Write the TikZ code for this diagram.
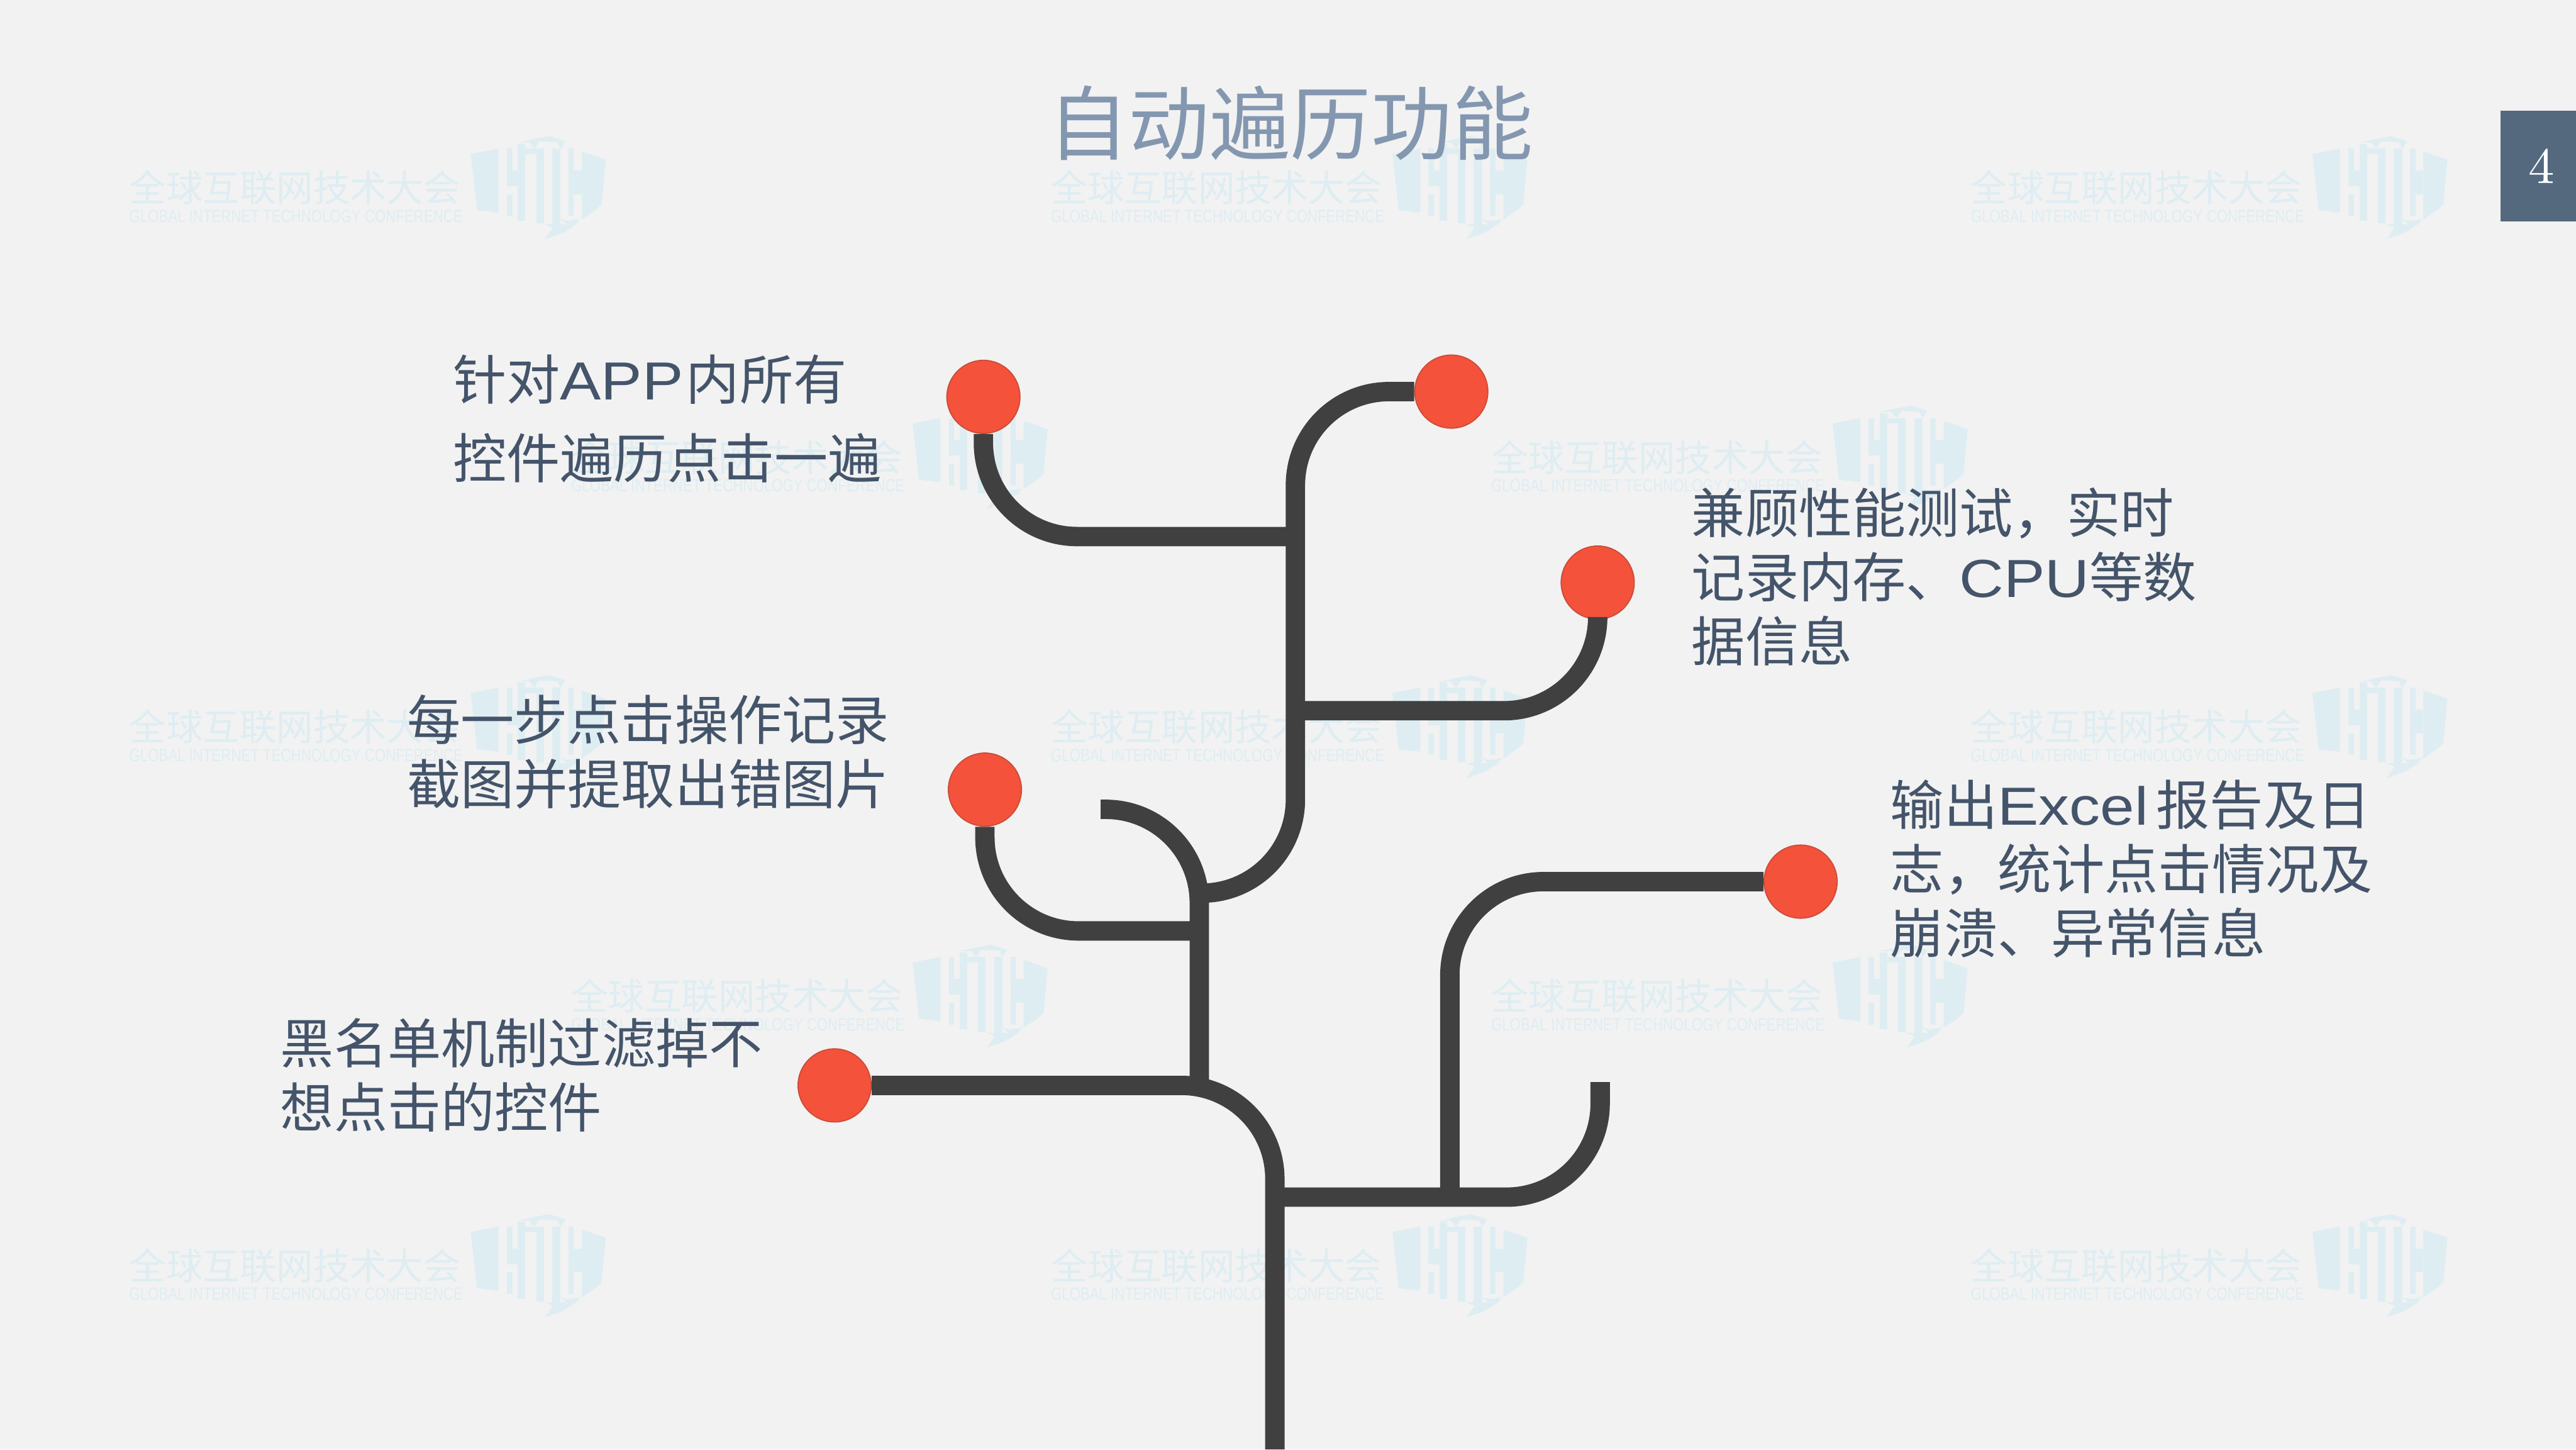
\documentclass[tikz,border=0pt]{standalone}
\usepackage{fontspec}
\usepackage{graphicx}
\usepackage{xcolor}
\newfontfamily\cjk{Noto Sans CJK SC}
\newfontfamily\latinwm{Liberation Sans}
\newfontfamily\latinword[FakeStretch=1.15]{Liberation Sans}
\definecolor{pagegrey}{rgb}{0.949, 0.949, 0.949}
\definecolor{titleblue}{rgb}{0.518, 0.592, 0.69}
\definecolor{labelblue}{rgb}{0.267, 0.329, 0.416}
\definecolor{boxblue}{rgb}{0.33, 0.41, 0.494}
\definecolor{branchgrey}{rgb}{0.25, 0.25, 0.25}
\definecolor{dotred}{rgb}{0.957, 0.322, 0.231}
\definecolor{dotedge}{rgb}{0.80, 0.30, 0.22}
\definecolor{markpale}{rgb}{0.871, 0.929, 0.949}

\begin{document}
\begin{tikzpicture}
	\tikzstyle{dot} = [circle,fill=dotred,draw=dotedge,very thin,minimum size=0.445cm,inner sep=0pt]
	\tikzstyle{edge} = [-,draw=branchgrey,line width=1.18mm,rounded corners=0.57cm]
	\tikzstyle{label} = [anchor=north west,inner sep=0pt,align=left,text=labelblue,font=\fontsize{9.28}{11.1}\selectfont\cjk]
	\tikzstyle{title} = [inner sep=0pt,text=titleblue,font=\fontsize{14}{16}\selectfont\cjk]
	\tikzstyle{pagebox} = [fill=boxblue,text=white,minimum width=0.46cm,minimum height=0.676cm,inner sep=0pt,font=\fontsize{8.8}{10}\selectfont]
	\tikzstyle{markcn} = [anchor=north west,inner sep=0pt,text=markpale,font=\fontsize{6.37}{7}\selectfont\cjk]
	\tikzstyle{marken} = [anchor=north west,inner sep=0pt,text=markpale,font=\fontsize{6}{7}\selectfont\latinwm]

	\useasboundingbox (0,0) rectangle (15.68,8.82);
	\fill[pagegrey] (0,0) rectangle (15.68,8.82);

	\foreach \mx/\my in {0.78/7.79,6.39/7.79,11.99/7.79,3.47/6.15,9.07/6.15,0.78/4.51,6.39/4.51,11.99/4.51,3.47/2.87,9.07/2.87,0.78/1.23,6.39/1.23,11.99/1.23}{
		\begin{scope}[shift={(\mx,\my)}]
			\node[markcn] (markcn) at (0,0) {全球互联网技术大会};
			\node[marken] (marken) at (0,-0.24) {\resizebox{2.03cm}{0.075cm}{GLOBAL INTERNET TECHNOLOGY CONFERENCE}};
			\foreach \xa/\ya/\xb/\yb in {2.305/.126/2.339/-.103,2.305/-.007/2.417/-.103,2.305/-.152/2.339/-.284,2.371/.155/2.417/-.313,2.371/.126/2.530/.093,2.484/.126/2.530/-.330,2.581/.126/2.632/-.346,2.680/.126/2.712/-.284,2.680/-.007/2.761/-.152}{
				\fill[markpale] (\xa,\ya) rectangle (\xb,\yb);
			}
			\fill[markpale] (2.085,.093)--(2.254,.126)--(2.254,-.264)--(2.124,-.249)--cycle;
			\fill[markpale] (2.761,.109)--(2.907,.058)--(2.882,-.213)--(2.851,-.243)--(2.761,-.305)--cycle;
			\fill[markpale] (2.535,-.335)--(2.729,-.335)--(2.647,-.386)--(2.535,-.427)--(2.586,-.356)--cycle;
			\fill[markpale] (2.632,-.300)--(2.667,-.335)--(2.729,-.335)--(2.761,-.284)--(2.744,-.305)--(2.667,-.315)--cycle;
			\fill[markpale] (2.371,.160)--(2.473,.185)--(2.565,.201)--(2.662,.170)--(2.632,.126)--(2.611,.165)--(2.504,.170)--(2.473,.126)--(2.440,.165)--cycle;
		\end{scope}
	}

	\node[title] (headline) at (7.855,8.07) {自动遍历功能};
	\node[pagebox] (pageno) at (15.45,7.81) {\hspace{0.4mm}4};

	\node[dot] (n1) at (5.986,6.405) {};
	\node[dot] (n2) at (8.834,6.437) {};
	\node[dot] (n3) at (9.725,5.275) {};
	\node[dot] (n4) at (5.995,4.015) {};
	\node[dot] (n5) at (5.08,2.215) {};
	\node[dot] (n6) at (10.96,3.455) {};

	\coordinate (base) at (7.76,0);
	\coordinate (j1) at (7.30,2.215);
	\coordinate (j2) at (7.30,3.155);
	\coordinate (j3) at (7.33,3.385);
	\coordinate (j4) at (7.885,4.9);
	\coordinate (j5) at (7.885,5.555);
	\coordinate (j6) at (7.885,4.495);
	\coordinate (j7) at (7.76,1.535);
	\coordinate (j8) at (8.825,1.535);
	\coordinate (tip1) at (6.70,3.895);
	\coordinate (tip2) at (9.74,2.235);

	\draw[edge] (base) |- (n5);
	\draw[edge] (j1) |- (tip1);
	\draw[edge] (n4) |- (j2);
	\draw[edge] (j3) -| (j4) |- (n2);
	\draw[edge] (n1) |- (j5);
	\draw[edge] (j6) -| (n3);
	\draw[edge] (j7) -| (tip2);
	\draw[edge] (j8) |- (n6);

	\node[label,font=\fontsize{9.28}{13.66}\selectfont\cjk] (traverse) at (2.75,6.67) {针对{\latinword APP}\hspace{0.05em}内所有\\控件遍历点击一遍};
	\node[label] (perf) at (10.29,5.86) {兼顾性能测试\char"FF0C 实时\\记录内存、{\latinword CPU}等数\\据信息};
	\node[label] (shots) at (2.47,4.60) {每一步点击操作记录\\截图并提取出错图片};
	\node[label] (report) at (11.50,4.08) {输出{\latinword Excel}\hspace{0.15em}报告及日\\志\char"FF0C 统计点击情况及\\崩溃、异常信息};
	\node[label] (blacklist) at (1.70,2.63) {黑名单机制过滤掉不\\想点击的控件};
\end{tikzpicture}
\end{document}
